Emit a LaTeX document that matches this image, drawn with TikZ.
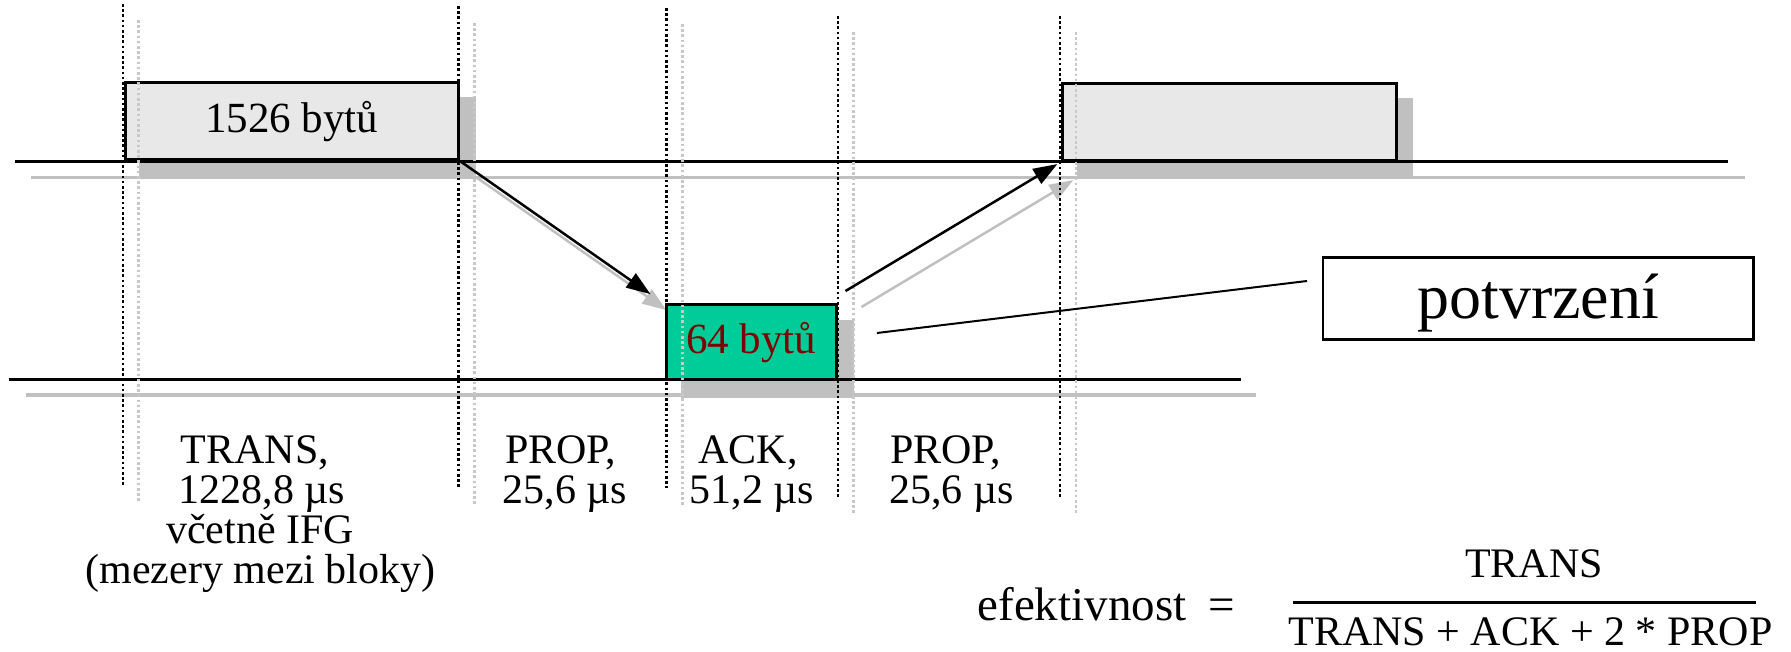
\documentclass[tikz,border=0pt]{standalone}
\usepackage{fontspec}
\setmainfont{Liberation Serif}
\usetikzlibrary{arrows.meta,backgrounds}
\definecolor{shc}{RGB}{192,192,192}
\definecolor{gdc}{RGB}{200,200,200}
\definecolor{boxfill}{RGB}{232,232,232}
\definecolor{ackfill}{RGB}{0,204,153}
\definecolor{acktext}{RGB}{128,0,0}
\begin{document}
\begin{tikzpicture}[x=1pt,y=-1pt,
  box/.style={draw=black, line width=3pt, inner sep=0pt, outer sep=0pt},
  wire/.style={line width=3pt, black},
  swire/.style={line width=3.5pt, shc},
  bdot/.style={line width=2.7pt, black, dash pattern=on 2.6pt off 2.6pt},
  gdot/.style={line width=2.7pt, gdc, dash pattern=on 2.6pt off 2.6pt},
  lbl/.style={font=\fontsize{42}{40}\selectfont, inner sep=0pt, anchor=base},
  arr/.style={line width=2.5pt, -{Triangle[length=24pt,width=17pt]}},
  sarr/.style={line width=2.5pt, shc, -{Triangle[length=24pt,width=17pt]}},
]
\useasboundingbox (0,0) rectangle (1791,652);

% boxes
\node[box, fill=boxfill, minimum width=333.5pt, minimum height=77pt,
      font=\fontsize{43}{43}\selectfont] (b1) at (291.75,121.5) {1526 bytů};
\node[box, fill=boxfill, minimum width=333.5pt, minimum height=77pt] (b2) at (1229.25,122.5) {};
\node[box, fill=ackfill, minimum width=170.5pt, minimum height=74.5pt,
      font=\fontsize{43}{43}\selectfont, text=acktext] (ack) at (751.25,342.25) {64 bytů};
\node[box, line width=2.5pt, fill=white, minimum width=430.5pt, minimum height=82pt,
      font=\fontsize{64}{64}\selectfont, text height=41pt, text depth=0pt] (pv) at (1538.25,298.5) {potvrzení};

% shadows and grey copies
\begin{scope}[on background layer]
  \fill[shc] ([shift={(14,14)}]b1.north west) rectangle ([shift={(17,17)}]b1.south east);
  \fill[shc] ([shift={(14,14)}]b2.north west) rectangle ([shift={(17,17)}]b2.south east);
  \fill[shc] ([shift={(15,15)}]ack.north west) rectangle ([shift={(17,18)}]ack.south east);
  \draw[swire] (30.6,177.5) -- (1745,177.5);
  \draw[swire] (25.7,395) -- (1256,395);
  \draw[sarr, shorten <=3pt, shorten >=19pt] ([shift={(16,16)}]b1.south east) -- ([shift={(16,16)}]ack.north west);
  \coordinate (a2g) at ([shift={(25,2)}]ack.north east);
  \draw[sarr, shorten >=6pt] (a2g) -- ([shift={(16,16)}]b2.south west);
\end{scope}

% time lines
\draw[wire] (14.5,161.3) -- (1728,161.3);
\draw[wire] (9,379.3) -- (1241,379.3);

% grey dotted markers
\foreach \x/\a/\b in {138.5/20/502, 474.5/23/505, 682.5/24/505, 853.6/32/513, 1076/32/513}
  \draw[gdot] (\x,\a) -- (\x,\b);
% black dotted markers
\foreach \x/\a/\b in {123/4/486, 458.5/6/488, 666.5/8/488, 838/16/498, 1060/16/498}
  \draw[bdot] (\x,\a) -- (\x,\b);

% arrows
\draw[arr, shorten <=3pt, shorten >=19pt] (b1.south east) -- (ack.north west);
\coordinate (a2s) at ([shift={(9,-14)}]ack.north east);
\draw[arr, shorten >=6pt] (a2s) -- (b2.south west);

% callout
\coordinate (cs) at (877,333);
\coordinate (ce) at ([shift={(-16,-17.5)}]pv.west);
\draw[line width=2pt] (cs) -- (ce);

% labels
\node[lbl] (l1) at (255,463.3) {TRANS,};
\node[lbl] (l2) at (262,503.3) {1228,8 µs};
\node[lbl] (l3) at (260,543.3) {včetně IFG};
\node[lbl] (l4) at (260.6,583.3) {(mezery mezi bloky)};
\node[lbl] (p1) at (560.5,463) {PROP,};
\node[lbl] (p2) at (565,503) {25,6 µs};
\node[lbl] (k1) at (748,463) {ACK,};
\node[lbl] (k2) at (752,503) {51,2 µs};
\node[lbl] (q1) at (945.6,463) {PROP,};
\node[lbl] (q2) at (951.6,503) {25,6 µs};

% formula
\node[lbl, font=\fontsize{47}{47}\selectfont] (ef) at (1082,620) {efektivnost};
\node[lbl, font=\fontsize{47}{47}\selectfont] (eq) at (1222,620) {=};
\node[lbl] (num) at (1534,577) {TRANS};
\node[lbl] (den) at (1530.5,645) {TRANS + ACK + 2 * PROP};
\coordinate (fl) at (1293,602);
\coordinate (fr) at (1756,602);
\draw[line width=3pt] (fl) -- (fr);
\end{tikzpicture}
\end{document}
